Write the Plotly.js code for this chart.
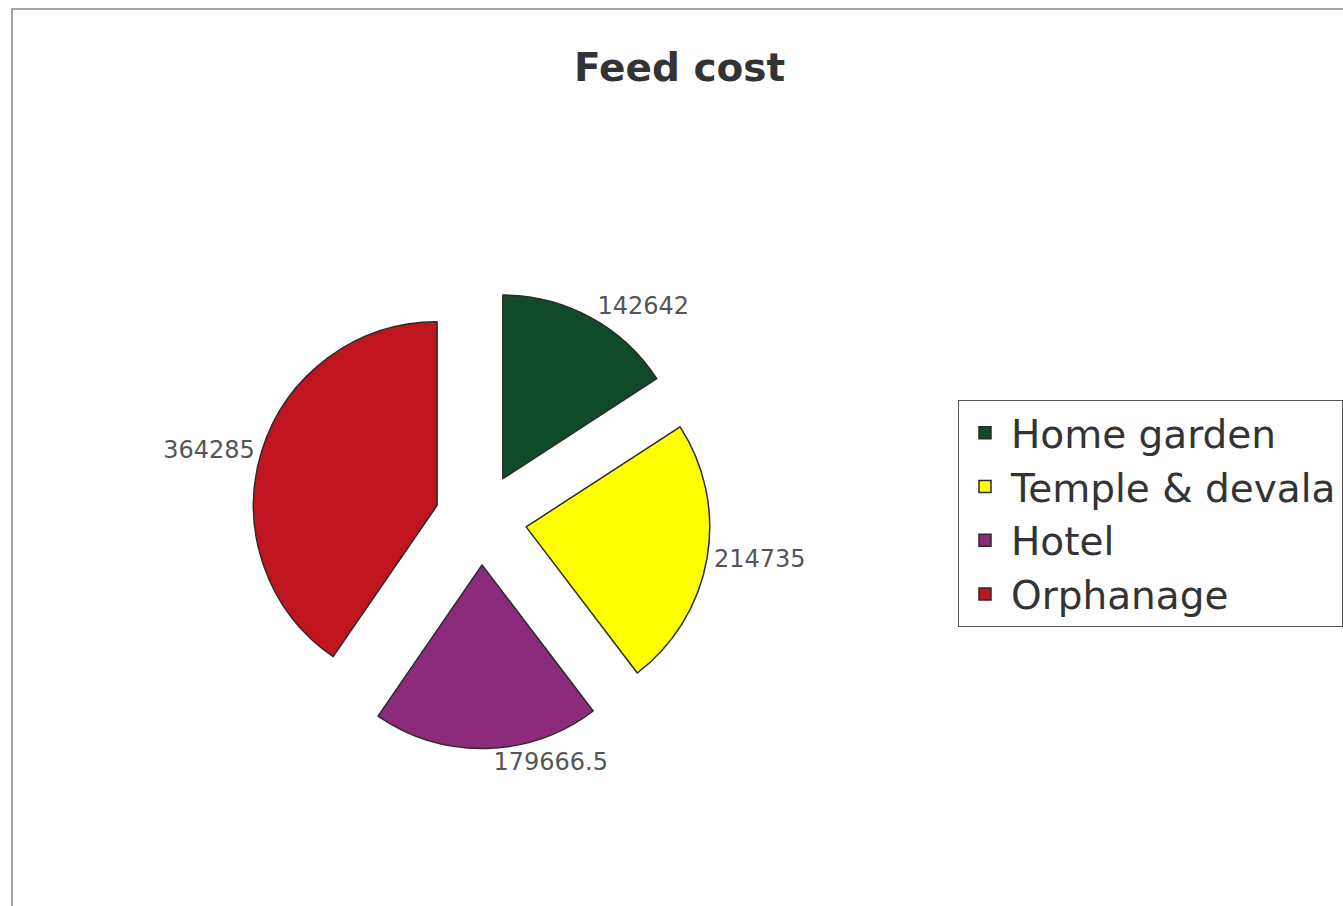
<!DOCTYPE html>
<html><head><meta charset="utf-8">
<script src="https://cdn.plot.ly/plotly-3.0.1.min.js"></script>
<style>body{margin:0;padding:0;background:#fff}#chart{width:1343px;height:906px}</style>
</head><body><div id="chart"></div>
<script>
var categories = ["Home garden", "Temple & devala", "Hotel", "Orphanage"];
var values = [142642, 214735, 179666.5, 364285];
var colors = ["#0f4a2b", "#ffff00", "#8c2a7c", "#c0141f"];

var trace = {
  type: "pie",
  labels: categories,
  values: values,
  sort: false,
  direction: "clockwise",
  rotation: 0,
  pull: [0.25, 0.25, 0.25, 0.25],
  marker: {colors: colors, line: {color: "#2a2a2a", width: 1.5}},
  textinfo: "value",
  textposition: "outside",
  outsidetextfont: {family: "DejaVu Sans, sans-serif", size: 24, color: "#555"},
  domain: {x: [0.18764, 0.53016], y: [0.17329, 0.68102]},
  hoverinfo: "label+value"
};

var layout = {
  width: 1343, height: 906,
  margin: {l: 0, r: 0, t: 0, b: 0},
  paper_bgcolor: "#ffffff",
  separators: ".",
  showlegend: true,
  title: {text: "<b>Feed cost</b>", x: 0.506, xanchor: "center", y: 0.926, yanchor: "middle",
    font: {family: "DejaVu Sans, sans-serif", size: 39, color: "#333"}},
  legend: {x: 0.715, xanchor: "left", y: 0.5585, yanchor: "top", itemwidth: 42,
    bordercolor: "#555", borderwidth: 1, bgcolor: "#ffffff",
    font: {family: "DejaVu Sans, sans-serif", size: 39, color: "#333"}},
  shapes: [{type: "rect", xref: "paper", yref: "paper", x0: 12/1343, x1: 1.01, y0: -0.01, y1: 1 - 9/906,
    line: {color: "#888", width: 1.5}, fillcolor: "rgba(0,0,0,0)"}]
};
Plotly.newPlot("chart", [trace], layout, {displayModeBar: false, staticPlot: true});
</script></body></html>
